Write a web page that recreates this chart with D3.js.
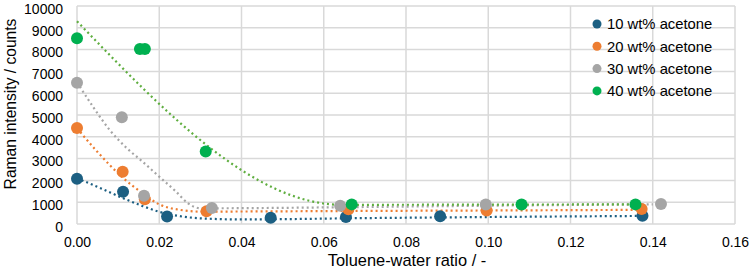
<!DOCTYPE html>
<html>
<head>
<meta charset="utf-8">
<script src="https://cdn.jsdelivr.net/npm/d3@7"></script>
<style>
  body { margin: 0; background: #fff; }
  text { font-family: "Liberation Sans", Arial, sans-serif; fill: #000; }
</style>
</head>
<body>
<svg id="chart" width="750" height="270"></svg>
<script>
// Measured points for each acetone content
const seriesNames = ["10 wt% acetone", "20 wt% acetone", "30 wt% acetone", "40 wt% acetone"];
const seriesColors = ["#1c5f82", "#ed7d31", "#a5a5a5", "#00b050"];
const trendColors = ["#1c5f82", "#ed7d31", "#a5a5a5", "#5fae3f"];

const points10 = [[0, 2080], [0.0112, 1480], [0.0219, 340], [0.0471, 290], [0.0654, 320], [0.0883, 360], [0.1375, 380]];
const points20 = [[0, 4400], [0.0111, 2400], [0.0165, 1130], [0.0315, 580], [0.066, 680], [0.0996, 620], [0.1373, 690]];
const points30 = [[0, 6480], [0.0109, 4900], [0.0163, 1300], [0.0328, 730], [0.064, 840], [0.0994, 890], [0.142, 920]];
const points40 = [[0, 8520], [0.0153, 8030], [0.0165, 8030], [0.0313, 3330], [0.0668, 900], [0.1081, 890], [0.1358, 900]];

// Dotted trend lines
const trend10 = [[0, 2100], [0.006, 1620], [0.011, 1200], [0.016, 820], [0.02, 560], [0.025, 360], [0.03, 260], [0.04, 210], [0.07, 270], [0.1, 320], [0.137, 370]];
const trend20 = [[0, 4400], [0.005, 3300], [0.011, 2150], [0.016, 1400], [0.02, 900], [0.025, 650], [0.03, 570], [0.07, 600], [0.1, 620], [0.138, 650]];
const trend30 = [[0, 6500], [0.004, 5350], [0.008, 4300], [0.012, 3500], [0.016, 2850], [0.02, 2170], [0.024, 1500], [0.027, 950], [0.03, 720], [0.07, 780], [0.1, 840], [0.14, 900]];
const trend40 = [[0, 9300], [0.0645, 880], [0.1, 890], [0.136, 900]];

const allPoints = [points10, points20, points30, points40];
const allTrends = [trend10, trend20, trend30, trend40];

const xTicks = [0, 0.02, 0.04, 0.06, 0.08, 0.1, 0.12, 0.14, 0.16];
const yTicks = [0, 1000, 2000, 3000, 4000, 5000, 6000, 7000, 8000, 9000, 10000];

const svg = d3.select("#chart");
const x = d3.scaleLinear().domain([0, 0.16]).range([77, 735]);
const y = d3.scaleLinear().domain([0, 10000]).range([224, 6]);

// Gridlines
const grid = svg.append("g").attr("stroke", "#d9d9d9").attr("stroke-width", 1.5);
grid.selectAll("line.h")
  .data(yTicks)
  .enter()
  .append("line")
  .attr("x1", x(0))
  .attr("x2", x(0.16))
  .attr("y1", (d) => y(d))
  .attr("y2", (d) => y(d));
grid.selectAll("line.v")
  .data(xTicks)
  .enter()
  .append("line")
  .attr("y1", y(0))
  .attr("y2", y(10000))
  .attr("x1", (d) => x(d))
  .attr("x2", (d) => x(d));

// Axes (tick labels only)
const xAxis = svg.append("g")
  .attr("transform", `translate(0,${y(0)})`)
  .call(d3.axisBottom(x).tickValues(xTicks).tickFormat(d3.format(".2f")).tickSize(0).tickPadding(13));
const yAxis = svg.append("g")
  .attr("transform", `translate(${x(0)},0)`)
  .call(d3.axisLeft(y).tickValues(yTicks).tickFormat((d) => d).tickSize(0).tickPadding(14));
[xAxis, yAxis].forEach((a) => {
  a.select(".domain").remove();
  a.selectAll("text").attr("font-size", 14).attr("fill", "#000")
    .attr("font-family", "'Liberation Sans', Arial, sans-serif");
});
// y labels sit a little below their gridlines in the original
yAxis.selectAll("text").attr("dy", "0.52em");

// Trend lines
const line = d3.line()
  .x((d) => x(d[0]))
  .y((d) => y(d[1]))
  .curve(d3.curveMonotoneX);
svg.append("g")
  .selectAll("path")
  .data(allTrends)
  .enter()
  .append("path")
  .attr("d", line)
  .attr("fill", "none")
  .attr("stroke", (d, i) => trendColors[i])
  .attr("stroke-width", 2.2)
  .attr("stroke-dasharray", "2,3");

// Markers
allPoints.forEach((pts, i) => {
  svg.append("g")
    .selectAll("circle")
    .data(pts)
    .enter()
    .append("circle")
    .attr("cx", (d) => x(d[0]))
    .attr("cy", (d) => y(d[1]))
    .attr("r", 6)
    .attr("fill", seriesColors[i]);
});

// Legend
const legend = svg.append("g").attr("transform", "translate(597,24)");
const item = legend.selectAll("g")
  .data(seriesNames)
  .enter()
  .append("g")
  .attr("transform", (d, i) => `translate(0,${i * 22.3})`);
item.append("circle").attr("r", 4.5).attr("fill", (d, i) => seriesColors[i]);
item.append("text")
  .attr("x", 10)
  .attr("dy", "0.36em")
  .attr("font-size", 14.8)
  .text((d) => d);

// Axis titles
svg.append("text")
  .attr("x", 407)
  .attr("y", 266)
  .attr("text-anchor", "middle")
  .attr("font-size", 16.4)
  .text("Toluene-water ratio / -");
svg.append("text")
  .attr("transform", "translate(16,104) rotate(-90)")
  .attr("text-anchor", "middle")
  .attr("font-size", 15.6)
  .text("Raman intensity / counts");
</script>
</body>
</html>
